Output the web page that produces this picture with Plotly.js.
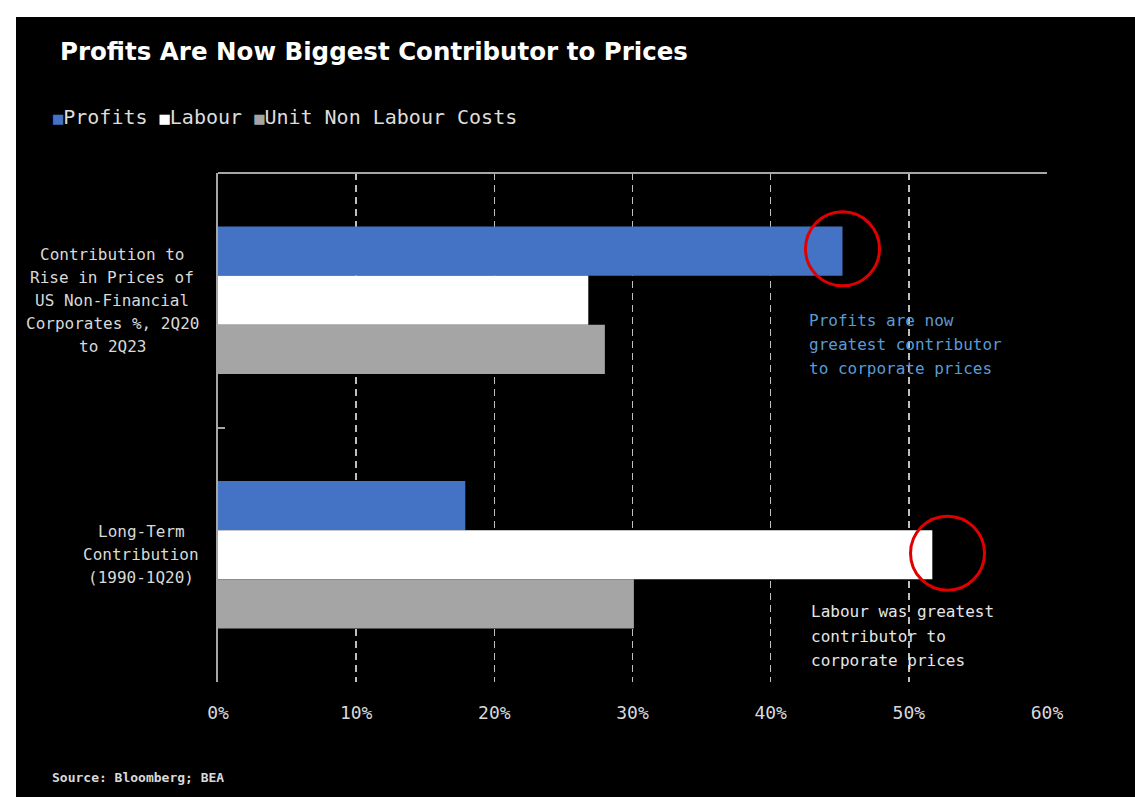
<!DOCTYPE html>
<html>
<head>
<meta charset="utf-8">
<script src="https://cdn.plot.ly/plotly-3.0.1.min.js"></script>
<style>
html,body{margin:0;padding:0;background:#ffffff;}
#chart{position:absolute;left:16px;top:17px;width:1119px;height:780px;}
</style>
</head>
<body>
<div id="chart"></div>
<script>
// ---- Data ----
const categories = [
  "Contribution to<br>Rise in Prices of<br>US Non-Financial<br>Corporates %, 2Q20<br>to 2Q23",
  "Long-Term<br>Contribution<br>(1990-1Q20)"
];
const seriesNames = ["Profits", "Labour", "Unit Non Labour Costs"];
const profits = [45.2, 17.9];
const labour = [26.8, 51.7];
const unitNonLabour = [28.0, 30.1];
const seriesColors = ["#4472c4", "#ffffff", "#a5a5a5"];
const xTicks = [0, 10, 20, 30, 40, 50, 60];
const titleText = "Profits Are Now Biggest Contributor to Prices";
const sourceText = "Source: Bloomberg; BEA";
const note1 = "Profits are now<br>greatest contributor<br>to corporate prices";
const note2 = "Labour was greatest<br>contributor to<br>corporate prices";

const mono = "DejaVu Sans Mono, Liberation Mono, monospace";
const values = [profits, labour, unitNonLabour];

const traces = seriesNames.map((name, i) => ({
  type: "bar",
  orientation: "h",
  name: name,
  x: values[i],
  y: categories,
  marker: {color: seriesColors[i], line: {width: 0}},
  hoverinfo: "x+name"
}));

const annotations = [];

// multi-line text block drawn line by line for control of line spacing
function addBlock(text, base, opts) {
  const lines = text.split("<br>");
  const n = lines.length;
  const charW = 0.602 * opts.size;
  const blockW = Math.max(...lines.map(l => l.length)) * charW;
  lines.forEach((ln, i) => {
    const a = Object.assign({}, base, {
      text: ln, showarrow: false, yanchor: "middle",
      yshift: ((n - 1) / 2 - i) * opts.spacing,
      font: {family: mono, size: opts.size, color: opts.color}
    });
    if (opts.center) {
      a.xanchor = "center";
      a.xshift = (base.xshift || 0) - blockW / 2;
    } else {
      a.xanchor = "left";
    }
    annotations.push(a);
  });
}

categories.forEach(c => {
  addBlock(c, {xref: "paper", yref: "y", x: 0, y: c, xshift: -19},
    {size: 16, spacing: 23, color: "#d9d9d9", center: true});
});

// legend as tight text row built from series names/colours
const legendText = seriesNames.map((n, i) =>
  `<span style="color:${seriesColors[i]};font-size:17px">■</span>${n}`).join(" ");
annotations.push({
  xref: "paper", yref: "paper", x: -0.2020, y: 1.11, xanchor: "left", yanchor: "middle",
  showarrow: false, text: legendText, font: {family: mono, size: 20, color: "#dddddd"}
});

addBlock(note1, {xref: "x", yref: "paper", x: 42.6, y: 0.664},
  {size: 16, spacing: 24, color: "#5b9bd5", center: false});
addBlock(note2, {xref: "x", yref: "paper", x: 42.8, y: 0.090},
  {size: 16, spacing: 24.5, color: "#e6e6e6", center: false});

annotations.push({
  xref: "paper", yref: "paper", x: -0.2029, y: -0.1886, xanchor: "left", yanchor: "middle",
  showarrow: false, text: "<b>" + sourceText + "</b>",
  font: {family: mono, size: 13, color: "#d9d9d9"}
});

const shapes = [
  {type: "line", xref: "x", yref: "paper", x0: 0, x1: 60, y0: 1, y1: 1,
   line: {color: "#a6a6a6", width: 2}},
  {type: "circle", xref: "x", yref: "paper", xsizemode: "pixel", ysizemode: "pixel",
   xanchor: profits[0], yanchor: 0.851, x0: -37, x1: 37, y0: -37, y1: 37,
   line: {color: "#e00000", width: 3}},
  {type: "circle", xref: "x", yref: "paper", xsizemode: "pixel", ysizemode: "pixel",
   xanchor: 52.8, yanchor: 0.253, x0: -37, x1: 37, y0: -37, y1: 37,
   line: {color: "#e00000", width: 3}}
];

const layout = {
  width: 1119, height: 780,
  paper_bgcolor: "#000000", plot_bgcolor: "#000000",
  margin: {l: 202, r: 88, t: 156, b: 115},
  barmode: "group", bargap: 0.42, bargroupgap: 0,
  showlegend: false,
  title: {
    text: "<b>" + titleText + "</b>",
    xref: "container", yref: "container", x: 44 / 1119, xanchor: "left",
    y: 1 - 34 / 780, yanchor: "middle",
    font: {family: "DejaVu Sans, Verdana, sans-serif", size: 24.5, color: "#ffffff"}
  },
  xaxis: {
    range: [0, 60], tickvals: xTicks, ticktext: xTicks.map(v => v + "%"),
    showgrid: true, gridcolor: "#bfbfbf", gridwidth: 1.5, griddash: "7px,5px",
    zeroline: false, showline: false, ticks: "",
    ticklabelstandoff: 18,
    tickfont: {family: mono, size: 18, color: "#d9d9d9"},
    fixedrange: true
  },
  yaxis: {
    autorange: "reversed", type: "category",
    showticklabels: false, showgrid: false, zeroline: false,
    showline: true, linecolor: "#a6a6a6", linewidth: 2,
    ticks: "inside", tickson: "boundaries", ticklen: 7, tickcolor: "#a6a6a6", tickwidth: 2,
    fixedrange: true
  },
  annotations: annotations,
  shapes: shapes
};

Plotly.newPlot("chart", traces, layout, {displayModeBar: false, staticPlot: true});
</script>
</body>
</html>
